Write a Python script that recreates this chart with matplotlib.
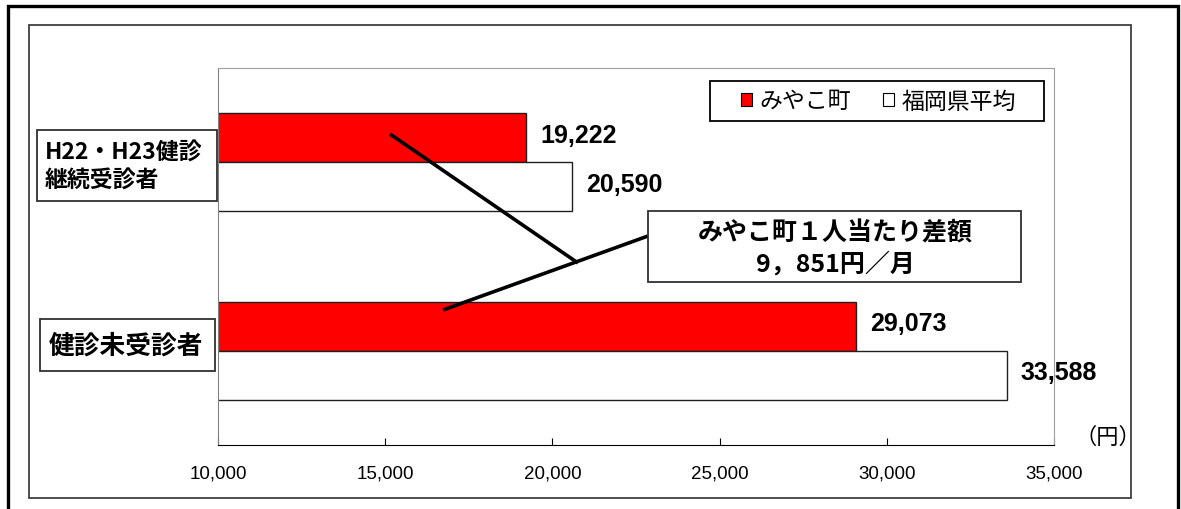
import matplotlib
matplotlib.use("Agg")
import matplotlib.pyplot as plt
from matplotlib.patches import Rectangle, Patch
import numpy as np

plt.rcParams['font.family'] = ['Noto Sans CJK JP', 'DejaVu Sans']

categories = ["H22・H23健診\n継続受診者", "健診未受診者"]
series_names = ["みやこ町", "福岡県平均"]
miyako = [19222, 29073]
fukuoka = [20590, 33588]
xticks = [10000, 15000, 20000, 25000, 30000, 35000]
note = "みやこ町１人当たり差額\n9，851円／月"

W, H = 1181, 510


def fx(x):
    return x / W


def fy(y):
    return 1 - y / H


fig = plt.figure(figsize=(W / 100, H / 100), dpi=100)

# outer frames
fig.patches.append(Rectangle((fx(8), fy(520)), fx(1178) - fx(8), fy(7) - fy(520),
                             transform=fig.transFigure, fill=False, ec="black", lw=2.4))
fig.patches.append(Rectangle((fx(29), fy(499)), fx(1131) - fx(29), fy(26) - fy(499),
                             transform=fig.transFigure, fill=False, ec="#404040", lw=1.3))

ax = fig.add_axes([fx(218), fy(446), fx(1054) - fx(218), fy(69) - fy(446)])

y = np.arange(len(categories))
h = 0.26
ax.barh(y - h / 2, miyako, height=h, color="#ff0000", edgecolor="#202020", lw=1.0,
        label=series_names[0])
ax.barh(y + h / 2, fukuoka, height=h, color="white", edgecolor="#202020", lw=1.0,
        label=series_names[1])

for vals, off in ((miyako, -h / 2), (fukuoka, h / 2)):
    for yi, v in zip(y, vals):
        ax.annotate(f"{v:,}", (v, yi + off), xytext=(10, 2), textcoords="offset points",
                    ha="left", va="center", fontsize=18, fontweight="bold",
                    family=["Liberation Sans", "DejaVu Sans"])

ax.set_xlim(xticks[0], xticks[-1])
ax.set_ylim(len(categories) - 0.5, -0.5)
ax.set_xticks(xticks)
ax.set_xticklabels([f"{t:,}" for t in xticks], fontsize=13.5,
                   family=["Liberation Sans", "DejaVu Sans"])
ax.set_yticks([])
ax.tick_params(axis="x", direction="in", length=5, pad=14)
ax.spines["top"].set_color("#a0a0a0")
ax.spines["right"].set_color("#a0a0a0")
ax.spines["left"].set_color("#808080")
ax.spines["bottom"].set_color("black")

fig.text(fx(1108), fy(437), "（円）", ha="center", va="center", fontsize=16)

# legend, frame drawn separately
fig.patches.append(Rectangle((fx(710), fy(122)), fx(1044) - fx(710), fy(82) - fy(122),
                             transform=fig.transFigure, fc="white", ec="black", lw=1.3,
                             zorder=5))
leg = fig.legend(handles=[Patch(fc="#ff0000", ec="black", lw=0.8),
                          Patch(fc="white", ec="black", lw=0.8)],
                 labels=series_names, ncol=2, loc="center left",
                 bbox_to_anchor=(fx(741), fy(102)), fontsize=16.5, frameon=False,
                 handlelength=0.5, handleheight=0.5, handletextpad=0.3,
                 columnspacing=1.4, borderpad=0, borderaxespad=0)
leg.set_zorder(6)

# callout lines
ax.plot([0.2057, 0.4306], [0.8249, 0.4828], color="black", lw=2.6,
        transform=ax.transAxes, solid_capstyle="butt")
ax.plot([0.2691, 0.5144], [0.3581, 0.5544], color="black", lw=2.6,
        transform=ax.transAxes, solid_capstyle="butt")

# difference note box
fig.patches.append(Rectangle((fx(648), fy(283)), fx(1021) - fx(648), fy(212) - fy(283),
                             transform=fig.transFigure, fc="white", ec="#303030", lw=1.3,
                             zorder=5))
fig.text(fx(835), fy(249), note, ha="center", va="center", fontsize=18,
         fontweight="bold", linespacing=1.3, zorder=6)

# category label boxes
fig.patches.append(Rectangle((fx(37), fy(202)), fx(217) - fx(37), fy(131) - fy(202),
                             transform=fig.transFigure, fc="white", ec="#303030", lw=1.3))
fig.text(fx(45), fy(167), categories[0], ha="left", va="center", fontsize=16.5,
         fontweight="bold", linespacing=1.25)
fig.patches.append(Rectangle((fx(40), fy(372)), fx(215) - fx(40), fy(320) - fy(372),
                             transform=fig.transFigure, fc="white", ec="#303030", lw=1.3))
fig.text(fx(126), fy(346), categories[1], ha="center", va="center", fontsize=18.5,
         fontweight="bold")

fig.savefig("out.png", dpi=100)
